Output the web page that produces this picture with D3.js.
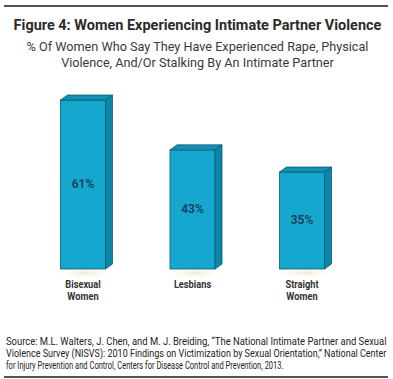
<!DOCTYPE html>
<html>
<head>
<meta charset="utf-8">
<script src="https://cdn.jsdelivr.net/npm/d3@7"></script>
<style>
  body { margin: 0; background: #fff; }
</style>
</head>
<body>
<div id="chart"></div>
<script>
// data
const categories = ["Bisexual Women", "Lesbians", "Straight Women"];
const categoryLines = [["Bisexual", "Women"], ["Lesbians"], ["Straight", "Women"]];
const values = [61, 43, 35];
const valueLabels = ["61%", "43%", "35%"];

const titleText = "Figure 4: Women Experiencing Intimate Partner Violence";
const subtitleLines = [
  "% Of Women Who Say They Have Experienced Rape, Physical",
  "Violence, And/Or Stalking By An Intimate Partner"
];
const sourceLines = [
  "Source: M.L. Walters, J. Chen, and M. J. Breiding, \u201cThe National Intimate Partner and Sexual",
  "Violence Survey (NISVS): 2010 Findings on Victimization by Sexual Orientation,\u201d National Center",
  "for Injury Prevention and Control, Centers for Disease Control and Prevention, 2013."
];

const width = 393;
const height = 379;
const baseY = 269;
const barWidth = 45;
const depthX = 7;
const depthY = 5;

const svg = d3
  .select("#chart")
  .append("svg")
  .attr("width", width)
  .attr("height", height)
  .style("font-family", "Roboto, 'Open Sans', sans-serif");

// scale font size of a text so its width matches target
function fitSize(textSel, baseSize, target) {
  const w = textSel.node().getComputedTextLength();
  const size = baseSize * target / w;
  textSel.style("font-size", `${size}px`);
  return size;
}

// rules
svg.append("line").attr("x1", 4).attr("x2", 388).attr("y1", 6).attr("y2", 6)
  .attr("stroke", "#1a1a1a").attr("stroke-width", 1.5);
svg.append("line").attr("x1", 4).attr("x2", 388).attr("y1", 377).attr("y2", 377)
  .attr("stroke", "#1a1a1a").attr("stroke-width", 1.5);

// title
const title = svg.append("text")
  .attr("x", width / 2 + 1).attr("y", 30)
  .attr("text-anchor", "middle")
  .style("font-size", "14px").style("font-weight", 700).style("fill", "#2b2b2b")
  .text(titleText);
fitSize(title, 14, 368);

const subs = subtitleLines.map((line, i) =>
  svg.append("text")
    .attr("x", width / 2 + 1).attr("y", 51 + i * 16)
    .attr("text-anchor", "middle")
    .style("font-size", "12px").style("fill", "#3a3a3a")
    .text(line)
);
const subSize = fitSize(subs[0], 12, 342);
subs[1].style("font-size", `${subSize}px`);

const xScale = d3.scalePoint().domain(categories).range([83, 302]);
const yScale = d3.scaleLinear().domain([0, 61]).range([baseY, 100]);

const defs = svg.append("defs");
const shadowGrad = defs.append("radialGradient").attr("id", "shadow");
shadowGrad.append("stop").attr("offset", "0%").attr("stop-color", "#efe3c8").attr("stop-opacity", 0.8);
shadowGrad.append("stop").attr("offset", "100%").attr("stop-color", "#ffffff").attr("stop-opacity", 0);

const bars = svg.selectAll(".bar")
  .data(categories)
  .enter()
  .append("g")
  .attr("class", "bar");

bars.each(function (c, i) {
  const g = d3.select(this);
  const x0 = xScale(c) - barWidth / 2;
  const x1 = x0 + barWidth;
  const top = yScale(values[i]);

  // soft shadow under bar
  g.append("ellipse")
    .attr("cx", xScale(c) + 3).attr("cy", baseY + 4)
    .attr("rx", barWidth * 0.7).attr("ry", 6)
    .attr("fill", "url(#shadow)");

  // front
  g.append("rect")
    .attr("x", x0).attr("y", top)
    .attr("width", barWidth).attr("height", baseY - top)
    .attr("fill", "#15a7cd").attr("stroke", "#0b5a72").attr("stroke-width", 0.8);

  // top face
  g.append("path")
    .attr("d", `M${x0},${top}L${x0 + depthX},${top - depthY}L${x1 + depthX},${top - depthY}L${x1},${top}Z`)
    .attr("fill", "#1391b5").attr("stroke", "#0b5a72").attr("stroke-width", 0.8);

  // side face
  g.append("path")
    .attr("d", `M${x1},${top}L${x1 + depthX},${top - depthY}L${x1 + depthX},${baseY - depthY}L${x1},${baseY}Z`)
    .attr("fill", "#0a87a6").attr("stroke", "#0b5a72").attr("stroke-width", 0.8);

  // value label
  g.append("text")
    .attr("x", xScale(c)).attr("y", (top + baseY) / 2)
    .attr("text-anchor", "middle").attr("dominant-baseline", "middle")
    .style("font-size", "12px").style("font-weight", 600).style("fill", "#1d3b5c")
    .text(valueLabels[i]);

  // category label (condensed)
  categoryLines[i].forEach((line, j) => {
    const t = g.append("text")
      .attr("x", xScale(c)).attr("y", 288 + j * 12)
      .attr("text-anchor", "middle")
      .style("font-size", "11px").style("font-weight", 700).style("fill", "#333")
      .text(line);
    const w = t.node().getComputedTextLength();
    t.attr("textLength", w * 0.84).attr("lengthAdjust", "spacingAndGlyphs");
  });
});

// source: each line squeezed horizontally to its width in the reference
const srcLengths = [381, 381, 278];
sourceLines.forEach((line, i) => {
  const g = svg.append("g");
  const t = g.append("text")
    .attr("x", 0).attr("y", 0)
    .style("font-size", "10px").style("fill", "#222")
    .text(line);
  const sx = srcLengths[i] / t.node().getComputedTextLength();
  g.attr("transform", `translate(6, ${345 + i * 12}) scale(${sx}, 1)`);
});
</script>
</body>
</html>
